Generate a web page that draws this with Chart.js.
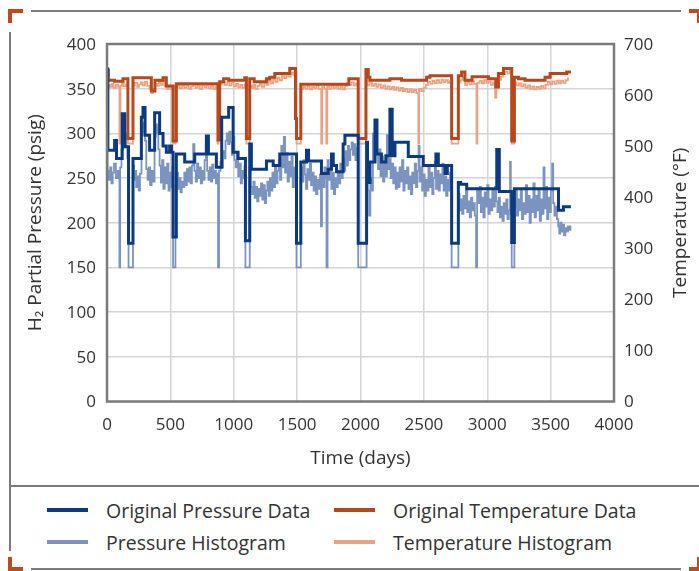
<!DOCTYPE html>
<html lang="en">
<head>
<meta charset="UTF-8">
<title>H2 partial pressure and temperature</title>
<script src="https://cdn.jsdelivr.net/npm/chart.js"></script>
<style>
  body { margin: 0; background: #fff; font-family: "Open Sans", sans-serif; color: #333; }
  #page { position: relative; width: 699px; height: 571px; overflow: hidden; }
  #chart { position: absolute; left: 0; top: 0; }
  .bar { position: absolute; }
  .gray { background: #7b7b7b; }
  .orange { background: #c2481d; }
  .leg { position: absolute; height: 26px; display: flex; align-items: center; font-size: 19.5px; white-space: nowrap; color: #333; }
  .leg i { display: inline-block; width: 41px; height: 4px; margin-right: 18px; }
</style>
</head>
<body>
<div id="page">
  <canvas id="chart" width="699" height="480"></canvas>

  <!-- frame -->
  <div class="bar orange" style="left:8px;top:9px;width:15px;height:4px"></div>
  <div class="bar orange" style="left:8px;top:9px;width:4px;height:14px"></div>
  <div class="bar gray" style="left:31px;top:10px;width:650px;height:2px"></div>
  <div class="bar orange" style="left:689px;top:9px;width:10px;height:4px"></div>
  <div class="bar orange" style="left:697px;top:9px;width:2px;height:14px"></div>
  <div class="bar gray" style="left:9px;top:32px;width:2px;height:519px"></div>
  <div class="bar gray" style="left:9px;top:485px;width:690px;height:2px"></div>
  <div class="bar gray" style="left:31px;top:568px;width:650px;height:2px"></div>
  <div class="bar orange" style="left:8px;top:557px;width:4px;height:14px"></div>
  <div class="bar orange" style="left:8px;top:567px;width:15px;height:4px"></div>
  <div class="bar orange" style="left:689px;top:567px;width:10px;height:4px"></div>
  <div class="bar orange" style="left:697px;top:557px;width:2px;height:14px"></div>

  <div id="legend"></div>
</div>

<script>
// Original Pressure Data (psig), step values holding until the next day
var opDays = [0,7,60,75,120,140,170,205,271,284,300,336,376,415,442,468,494,510,521,547,613,692,784,800,863,905,960,995,1034,1092,1126,1139,1258,1311,1363,1495,1529,1574,1590,1692,1745,1771,1785,1811,1863,1877,1982,2048,2055,2075,2114,2130,2165,2200,2232,2250,2272,2377,2495,2595,2614,2667,2685,2719,2772,2790,2838,3075,3095,3193,3214,3562,3601,3660];
var opVals = [372,281,292,272,322,285,177,272,318,329,298,281,323,300,286,279,286,279,184,277,268,277,297,277,262,318,329,279,272,180,288,260,269,264,277,177,268,281,269,255,260,277,264,257,288,298,177,290,245,268,315,277,268,275,327,275,290,274,264,277,264,255,264,177,245,243,238,282,235,178,238,214,218,218];

// Original Temperature Data (°F)
var otDays = [0,10,60,126,165,205,350,378,442,468,521,547,876,889,920,960,1087,1100,1126,1161,1258,1284,1324,1442,1487,1495,1529,1908,1982,2043,2061,2074,2232,2324,2521,2548,2719,2772,2798,2824,2880,3009,3067,3088,3128,3193,3214,3246,3298,3456,3496,3627,3661];
var otVals = [648,629,627,632,515,634,608,629,634,618,510,622,512,626,632,629,634,515,632,626,632,635,642,652,554,515,621,632,515,650,635,629,632,629,635,638,515,638,645,629,636,632,616,642,652,510,635,632,629,635,642,645,645];

// Pressure Histogram (psig)
var phDays = [0,5,15,25,35,45,55,70,85,98,104,114,124,132,140,150,160,170,205,214,222,230,240,250,260,272,280,290,300,310,320,330,340,352,362,375,385,395,405,415,425,435,445,455,465,475,485,495,505,515,521,540,550,560,570,580,590,600,610,620,630,640,650,660,670,680,690,700,710,720,730,740,750,760,770,780,790,800,810,820,830,840,850,860,870,876,884,895,905,915,925,935,945,955,965,
  975,985,995,1005,1015,1025,1035,1045,1055,1065,1075,1085,1092,1126,1135,1145,1155,1165,1175,1185,1195,1205,1215,1225,1235,1245,1255,1265,1275,1285,1295,1305,1315,1325,1335,1345,1355,1365,1375,1385,1395,1405,1415,1425,1435,1445,1455,1465,1475,1485,1495,1529,1540,1550,1560,1570,1580,1590,1600,1610,1620,1630,1640,1650,1660,1670,1680,1688,1696,1706,1716,1726,1732,1740,1750,1760,1770,1780,1790,1800,1810,1820,1830,1840,1850,1860,1870,1880,1890,1900,1910,1920,1930,1940,1950,1960,1970,
  1982,2048,2058,2068,2078,2088,2098,2108,2118,2128,2138,2148,2158,2168,2178,2188,2198,2208,2218,2228,2238,2248,2258,2268,2278,2288,2298,2308,2318,2328,2338,2348,2358,2368,2378,2388,2398,2408,2418,2428,2438,2448,2458,2466,2476,2486,2496,2506,2516,2526,2536,2546,2556,2566,2576,2586,2596,2606,2616,2626,2636,2646,2656,2666,2676,2686,2696,2706,2719,2772,2782,2792,2802,2812,2822,2832,2842,2852,2862,2872,2882,2892,2902,2912,2920,
  2930,2940,2950,2960,2970,2980,2990,3000,3010,3020,3030,3040,3050,3060,3070,3080,3090,3100,3110,3120,3130,3140,3150,3160,3170,3180,3186,3193,3214,3224,3234,3244,3254,3264,3274,3284,3294,3304,3314,3324,3334,3344,3354,3364,3374,3384,3394,3404,3414,3424,3434,3444,3452,3462,3472,3482,3492,3502,3512,3520,3530,3540,3550,3560,3568,3576,3586,3596,3606,3616,3626,3636,3646,3656];
var phVals = [330,258,248,262,244,256,266,250,258,150,262,282,296,318,300,286,272,150,264,248,258,240,252,236,255,298,312,302,292,260,248,262,242,258,246,296,310,300,282,264,245,270,238,262,244,266,236,256,240,262,150,242,256,238,250,234,246,240,256,242,260,246,262,244,264,288,258,246,266,250,262,244,258,248,270,285,258,248,262,246,265,250,258,244,255,150,258,268,262,280,272,292,300,288,302,
  290,276,296,270,262,278,252,266,244,258,250,262,150,262,240,232,246,228,240,224,238,230,244,226,242,222,236,246,230,250,236,256,240,262,244,258,270,248,286,262,296,256,278,246,268,252,274,240,262,248,150,262,246,270,254,238,260,248,266,242,256,236,252,232,248,238,254,196,256,240,262,250,150,270,248,262,238,256,232,250,240,258,244,266,250,272,258,280,264,286,270,282,290,276,288,270,284,
  150,262,236,208,250,236,300,268,308,276,260,282,252,274,246,268,252,298,260,272,250,266,244,262,238,256,240,262,246,270,236,258,244,262,238,252,232,256,244,266,240,258,286,246,262,236,254,230,248,236,262,240,256,232,250,268,238,258,236,254,244,266,236,252,230,248,236,256,150,232,214,226,210,230,216,236,212,224,206,228,214,222,208,150,236,
  222,240,212,228,206,234,218,242,210,226,214,236,218,240,224,212,228,206,218,202,222,210,226,204,214,268,210,150,218,236,208,226,214,238,204,222,210,242,212,230,200,226,212,244,206,230,214,238,202,226,210,262,216,240,204,228,212,236,266,222,208,218,204,196,188,200,190,198,186,194,190,196,192,197];

// Temperature Histogram (°F)
var thDays = [0,8,22,38,52,70,88,98,106,118,132,150,165,205,220,238,252,268,282,300,318,336,350,362,378,395,410,425,442,458,472,488,505,521,540,558,575,592,610,628,645,662,680,698,715,732,750,768,785,802,820,838,855,872,880,895,912,930,948,965,982,1000,1018,1035,1052,1070,1088,1100,1126,1140,1155,1170,1188,1205,1222,1240,1258,1275,1292,1310,1328,1345,1362,1380,1398,1415,1432,1450,1468,1482,1495,1529,1548,1565,1582,1600,1618,1635,1652,1670,1690,1698,1715,1730,1738,1755,1772,1790,1808,1825,1842,1860,1878,1895,1912,1930,1948,1965,1982,2043,2055,2072,2090,2108,2125,2142,2160,2178,2195,2212,2230,2248,2265,2282,2300,2318,2335,2352,2370,2388,2405,2422,2440,2456,2462,2480,2498,2515,2532,2550,2568,2585,2602,2620,2638,2655,2672,2690,2705,2719,2772,2790,2808,2825,2842,2860,2878,2895,2915,2922,2940,2958,2975,2992,3010,3028,3045,3062,3072,3090,3108,3125,3142,3160,3178,3193,3214,3232,3250,3268,3285,3302,3320,3338,3355,3372,3390,3408,3425,3442,3460,3478,3495,3512,3530,3548,3565,3582,3600,3618,3636,3645];
var thVals = [640,620,616,622,614,620,616,505,618,624,617,621,505,619,624,616,621,625,619,626,618,612,604,612,622,618,626,620,628,617,612,616,611,505,615,619,613,618,614,619,612,617,621,614,618,612,620,615,619,613,618,612,617,505,618,622,626,620,625,619,624,617,622,615,620,614,621,505,618,614,620,612,618,622,616,624,620,628,623,631,626,634,629,637,633,640,636,644,640,646,505,612,616,612,617,611,616,613,618,612,505,616,612,505,617,612,618,613,619,612,617,611,618,624,620,625,619,623,505,630,619,625,618,622,616,621,614,619,612,617,611,616,610,615,609,614,608,612,606,611,606,610,604,505,612,608,614,620,626,622,628,623,629,624,630,625,629,624,627,505,625,630,634,620,626,621,627,622,505,624,628,623,629,624,627,620,625,595,618,630,636,641,646,642,647,505,625,619,623,617,621,614,619,612,617,611,616,612,618,613,620,626,621,627,622,628,623,628,624,629,632,632];

var xTicks = { min: 0, max: 4000, step: 500 };
var pTicks = { min: 0, max: 400, step: 50 };
var tTicks = { min: 0, max: 700, step: 100 };

var darkBlue = '#0c3a80', lightBlue = '#7b93bf', darkOrange = '#b8471c', lightOrange = '#e9a283';
var font = '"Open Sans", sans-serif';

function pts(days, vals) {
    return days.map(function (d, i) { return { x: d, y: vals[i] }; });
}

function plain(v) { return String(v); }

var frame = {
    id: 'frame',
    afterDraw: function (chart) {
        var a = chart.chartArea, c = chart.ctx;
        c.save();
        c.strokeStyle = '#7b7b7b';
        c.lineWidth = 2.5;
        c.strokeRect(a.left, a.top, a.right - a.left, a.bottom - a.top);
        // right axis title, read bottom to top like the left one
        c.translate(681, (a.top + a.bottom) / 2);
        c.rotate(-Math.PI / 2);
        c.fillStyle = '#333';
        c.font = '19px ' + font;
        c.textAlign = 'center';
        c.textBaseline = 'middle';
        c.fillText('Temperature (°F)', 0, 0);
        c.restore();
    }
};

var datasets = [
    { label: 'Original Pressure Data', data: pts(opDays, opVals), yAxisID: 'y', borderColor: darkBlue, borderWidth: 3 },
    { label: 'Original Temperature Data', data: pts(otDays, otVals), yAxisID: 'y2', borderColor: darkOrange, borderWidth: 3 },
    { label: 'Pressure Histogram', data: pts(phDays, phVals), yAxisID: 'y', borderColor: lightBlue, borderWidth: 1.8 },
    { label: 'Temperature Histogram', data: pts(thDays, thVals), yAxisID: 'y2', borderColor: lightOrange, borderWidth: 1.8 }
];
datasets.forEach(function (ds) {
    ds.stepped = true;
    ds.pointRadius = 0;
    ds.fill = false;
    ds.borderJoinStyle = 'miter';
});

var tickFont = { family: font, size: 17 };
var titleFont = { family: font, size: 19 };

var ctx = document.getElementById('chart').getContext('2d');
var chart = new Chart(ctx, {
    type: 'line',
    data: { datasets: datasets },
    options: {
        responsive: false,
        animation: false,
        layout: { padding: { top: 44, left: 0, right: 0, bottom: 0 } },
        plugins: { legend: { display: false }, tooltip: { enabled: false } },
        scales: {
            x: {
                type: 'linear', min: xTicks.min, max: xTicks.max,
                ticks: { stepSize: xTicks.step, font: tickFont, color: '#333', padding: 13, maxRotation: 0, autoSkip: false, callback: plain },
                grid: { color: '#d4d4d4', lineWidth: 1.5, drawTicks: false },
                border: { display: false },
                title: { display: true, text: 'Time (days)', font: titleFont, color: '#333', padding: { top: 0, bottom: 10 } },
                afterFit: function (s) { s.height = 78.5; }
            },
            y: {
                position: 'left', min: pTicks.min, max: pTicks.max,
                ticks: { stepSize: pTicks.step, font: tickFont, color: '#333', padding: 11, labelOffset: 1, callback: plain },
                grid: { color: '#d4d4d4', lineWidth: 1.5, drawTicks: false },
                border: { display: false },
                title: { display: true, text: 'H₂ Partial Pressure (psig)', font: titleFont, color: '#333', padding: { top: 24, bottom: 0 } },
                afterFit: function (s) { s.width = 107; }
            },
            y2: {
                position: 'right', min: tTicks.min, max: tTicks.max,
                ticks: { stepSize: tTicks.step, font: tickFont, color: '#333', padding: 10, labelOffset: 1, callback: plain },
                grid: { drawOnChartArea: false, drawTicks: false },
                border: { display: false },
                afterFit: function (s) { s.width = 85; }
            }
        }
    },
    plugins: [frame]
});

// legend, two rows of two, in the reference's reading order
var legend = document.getElementById('legend');
var legPos = [[47, 497], [334, 497], [47, 529], [334, 529]];
datasets.forEach(function (ds, k) {
    var item = document.createElement('div');
    item.className = 'leg';
    item.style.left = legPos[k][0] + 'px';
    item.style.top = legPos[k][1] + 'px';
    item.innerHTML = '<i style="background:' + ds.borderColor + '"></i>' + ds.label;
    legend.appendChild(item);
});
</script>
</body>
</html>
